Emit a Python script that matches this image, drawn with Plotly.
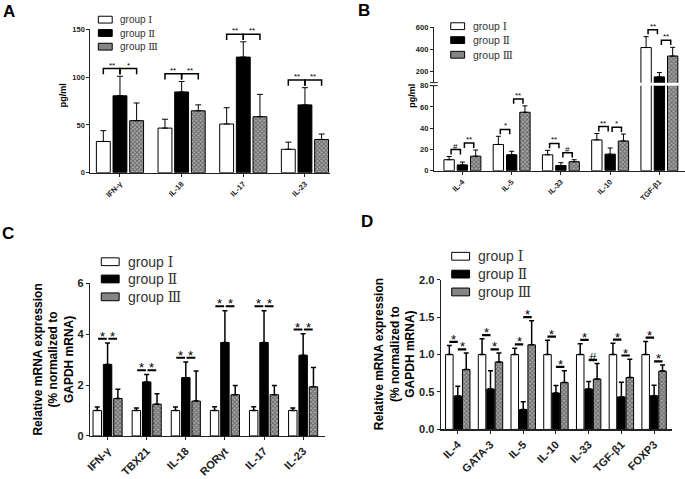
import plotly.graph_objects as go

W, H = 685, 479
FONT = "Liberation Sans"
groups = ["group Ⅰ", "group Ⅱ", "group Ⅲ"]

# ---------------- Panel A : serum cytokines (pg/ml) ----------------
catA = ["IFN-γ", "IL-18", "IL-17", "IL-23"]
A_I = [32.7, 46.7, 51.0, 24.5]
A_I_sd = [11.3, 9.3, 17.0, 7.5]
A_II = [80.5, 84.5, 121.0, 71.0]
A_II_sd = [20.5, 11.0, 16.0, 18.0]
A_III = [54.5, 64.8, 58.6, 34.8]
A_III_sd = [18.5, 6.2, 23.4, 5.7]
A_sig12 = ["**", "**", "**", "**"]
A_sig23 = ["*", "**", "**", "**"]
A_yticks = [0, 50, 100, 150]

# ---------------- Panel B : serum cytokines (pg/ml), broken axis ----------------
catB = ["IL-4", "IL-5", "IL-33", "IL-10", "TGF-β1"]
B_I = [10.4, 24.7, 15.0, 29.0, 418.0]
B_I_sd = [3.0, 7.7, 4.2, 6.0, 99.0]
B_II = [5.5, 15.0, 4.9, 15.6, 152.0]
B_II_sd = [2.7, 3.3, 2.7, 5.8, 39.0]
B_III = [13.7, 55.0, 8.5, 28.0, 341.0]
B_III_sd = [5.8, 6.0, 1.9, 6.5, 79.0]
B_sig12 = ["#", "*", "**", "**", "**"]
B_sig23 = ["**", "**", "#", "*", "**"]
B_yticks_low = [0, 20, 40, 60, 80]
B_yticks_high = [200, 400, 600]

# ---------------- Panel C : Th1/Th17 mRNA ----------------
catC = ["IFN-γ", "TBX21", "IL-18", "RORγt", "IL-17", "IL-23"]
C_I = [1.0, 1.0, 1.0, 1.0, 1.0, 1.0]
C_I_sd = [0.14, 0.10, 0.14, 0.15, 0.15, 0.10]
C_II = [2.81, 2.12, 2.29, 3.67, 3.67, 3.17]
C_II_sd = [0.84, 0.29, 0.61, 1.25, 1.25, 0.84]
C_III = [1.47, 1.25, 1.37, 1.62, 1.62, 1.93]
C_III_sd = [0.36, 0.41, 1.18, 0.36, 0.36, 0.76]
C_sig12 = ["*"] * 6
C_sig23 = ["*"] * 6
C_yticks = [0, 2, 4, 6]

# ---------------- Panel D : Th2/Treg mRNA ----------------
catD = ["IL-4", "GATA-3", "IL-5", "IL-10", "IL-33", "TGF-β1", "FOXP3"]
D_I = [1.0, 1.0, 1.0, 1.0, 1.0, 1.0, 1.0]
D_I_sd = [0.12, 0.21, 0.085, 0.19, 0.145, 0.15, 0.175]
D_II = [0.447, 0.54, 0.265, 0.485, 0.54, 0.434, 0.45]
D_II_sd = [0.13, 0.245, 0.105, 0.10, 0.10, 0.196, 0.14]
D_III = [0.80, 0.90, 1.13, 0.625, 0.673, 0.694, 0.78]
D_III_sd = [0.22, 0.12, 0.32, 0.16, 0.207, 0.243, 0.08]
D_sig12 = ["*"] * 7
D_sig23 = ["*", "*", "*", "*", "#", "*", "*"]
D_yticks = [0.0, 0.5, 1.0, 1.5, 2.0]

mrna_title = "Relative mRNA expression<br>(% normalized to<br>GAPDH mRNA)"

# ---------------- helpers ----------------
def xdom(a, b):
    return [a / W, b / W]

def ydom(top, bottom):
    return [1 - bottom / H, 1 - top / H]

STY = [
    dict(color="white", line=dict(color="black", width=1)),
    dict(color="black", line=dict(color="black", width=1)),
    dict(color="#909090", line=dict(color="black", width=1),
         pattern=dict(shape="x", fgcolor="#222222", bgcolor="#a8a8a8", size=3, solidity=0.5)),
]

fig = go.Figure()

def add_bars(xa, ya, means, sds, pitch, width, ethick, ewidth):
    for k in range(3):
        n = len(means[k])
        xs = [i + (k - 1) * pitch for i in range(n)]
        fig.add_trace(go.Bar(
            x=xs, y=means[k], width=width, name=groups[k], showlegend=False,
            marker=STY[k], xaxis=xa, yaxis=ya, hoverinfo="skip",
            error_y=dict(type="data", symmetric=False, array=sds[k], arrayminus=[0] * n,
                         color="black", thickness=ethick, width=ewidth),
        ))

annotations = []
shapes = []

def add_brackets(means, sds, sig12, sig23, pitch, inset, shared, axes_for,
                 fsize, yshift, lw):
    tops = [[m + s for m, s in zip(means[k], sds[k])] for k in range(3)]
    n = len(means[0])
    segs = {}
    for i in range(n):
        allmax = max(tops[k][i] for k in range(3))
        for (k1, k2), sig in (((0, 1), sig12[i]), ((1, 2), sig23[i])):
            t = allmax if shared else max(tops[k1][i], tops[k2][i])
            xa, ya, gap, leg = axes_for(t)
            y = t + gap
            x0 = i + (k1 - 1) * pitch + inset
            x1 = i + (k2 - 1) * pitch - inset
            sx, sy = segs.setdefault((xa, ya), ([], []))
            if leg > 0:
                sx += [x0, x0, x1, x1, None]
                sy += [y - leg, y, y, y - leg, None]
            else:
                sx += [x0, x1, None]
                sy += [y, y, None]
            annotations.append(dict(
                x=(x0 + x1) / 2, y=y, xref=xa, yref=ya, text=sig,
                showarrow=False, yanchor="bottom", yshift=yshift,
                font=dict(family=FONT, size=fsize, color="black")))
    for (xa, ya), (sx, sy) in segs.items():
        fig.add_trace(go.Scatter(x=sx, y=sy, mode="lines", xaxis=xa, yaxis=ya,
                                 line=dict(color="black", width=lw), showlegend=False,
                                 hoverinfo="skip"))

# ---------------- traces ----------------
pA, wA = 0.27, 0.225
add_bars("x", "y", [A_I, A_II, A_III], [A_I_sd, A_II_sd, A_III_sd], pA, wA, 1, 3)
add_brackets([A_I, A_II, A_III], [A_I_sd, A_II_sd, A_III_sd], A_sig12, A_sig23,
             pA, 0.0, True, lambda t: ("x", "y", 8, 6), 8, -3, 1.5)

pB, wB = 0.27, 0.21
B_low_max = B_yticks_low[-1]
for ya in ("y2", "y3"):
    add_bars("x2", ya, [B_I, B_II, B_III], [B_I_sd, B_II_sd, B_III_sd], pB, wB, 1, 2.5)
add_brackets([B_I, B_II, B_III], [B_I_sd, B_II_sd, B_III_sd], B_sig12, B_sig23,
             pB, 0.04, False,
             lambda t: ("x2", "y3", 63, 42) if t > B_low_max else ("x2", "y2", 6.5, 4.5),
             8, -3, 1.5)

pC, wC = 0.264, 0.216
add_bars("x3", "y4", [C_I, C_II, C_III], [C_I_sd, C_II_sd, C_III_sd], pC, wC, 1.5, 2.5)
add_brackets([C_I, C_II, C_III], [C_I_sd, C_II_sd, C_III_sd], C_sig12, C_sig23,
             pC, 0.02, True, lambda t: ("x3", "y4", 0.17, 0), 13, -7, 2)

pD, wD = 0.258, 0.23
add_bars("x4", "y5", [D_I, D_II, D_III], [D_I_sd, D_II_sd, D_III_sd], pD, wD, 1.5, 2.5)
add_brackets([D_I, D_II, D_III], [D_I_sd, D_II_sd, D_III_sd], D_sig12, D_sig23,
             pD, 0.0, False, lambda t: ("x4", "y5", 0.05, 0), 13, -7, 2.2)

# ---------------- axes ----------------
def xaxis_style(cats, rng, dom, anchor, fsize, lw):
    return dict(domain=dom, range=rng, anchor=anchor, tickmode="array",
                tickvals=list(range(len(cats))), ticktext=cats, tickangle=-45,
                showline=True, linecolor="#222", linewidth=lw, ticks="outside",
                ticklen=3, tickwidth=1, tickcolor="#222", showgrid=False, zeroline=False,
                tickfont=dict(family=FONT, size=fsize, color="#222", weight="bold"),
                fixedrange=True)

def yaxis_style(vals, rng, dom, anchor, fsize, lw, fmt=None):
    d = dict(domain=dom, range=rng, anchor=anchor, tickmode="array", tickvals=vals,
             showline=True, linecolor="#222", linewidth=lw, ticks="outside",
             ticklen=3, tickwidth=1, tickcolor="#222", showgrid=False, zeroline=False,
             tickfont=dict(family=FONT, size=fsize, color="#222", weight="bold"),
             fixedrange=True)
    if fmt:
        d["tickformat"] = fmt
    return d

fig.update_layout(
    xaxis=xaxis_style(catA, [-0.48, 3.4], xdom(86, 327), "y", 7.5, 1),
    yaxis=yaxis_style(A_yticks, [0, 150], ydom(24, 171), "x", 7.5, 1),
    xaxis2=xaxis_style(catB, [-0.58, 4.52], xdom(432, 685), "y2", 7.5, 1),
    yaxis2=yaxis_style(B_yticks_low, [0, 80], ydom(81.7, 169), "x2", 7.5, 1),
    yaxis3=yaxis_style(B_yticks_high, [100, 600], ydom(22, 78.6), "x2", 7.5, 1),
    xaxis3=xaxis_style(catC, [-0.44, 5.55], xdom(86, 322), "y4", 11, 1.5),
    yaxis4=yaxis_style(C_yticks, [0, 6], ydom(284.3, 441), "x3", 11, 1.5),
    xaxis4=xaxis_style(catD, [-0.51, 6.55], xdom(439.3, 672), "y5", 11, 1.5),
    yaxis5=yaxis_style(D_yticks, [0, 2], ydom(280.7, 434.3), "x4", 11, 1.5, ".1f"),
)

# axis break marks on panel B
for ypx in (78.6, 81.7):
    shapes.append(dict(type="line", xref="paper", yref="paper",
                       x0=428 / W, x1=436 / W, y0=1 - ypx / H, y1=1 - ypx / H,
                       line=dict(color="#222", width=1)))

# ---------------- legends (drawn) ----------------
fills = ["white", "black", "#858585"]

def legend_label(s):
    word, num = s.split(" ")
    return word + " <span style='font-family:DejaVu Serif'>" + num + "</span>"

def add_legend(x0, sw, sh, rows, tx, fsize):
    for k, yc in enumerate(rows):
        shapes.append(dict(type="rect", xref="paper", yref="paper",
                           x0=x0 / W, x1=(x0 + sw) / W,
                           y0=1 - (yc + sh / 2) / H, y1=1 - (yc - sh / 2) / H,
                           fillcolor=fills[k], line=dict(color="black", width=1)))
        annotations.append(dict(x=tx / W, y=1 - yc / H, xref="paper", yref="paper",
                                text=legend_label(groups[k]), showarrow=False,
                                xanchor="left", yanchor="middle",
                                font=dict(family=FONT, size=fsize, color="#333")))

add_legend(94, 14, 7, [14, 27.7, 41.7], 114, 10)
add_legend(449, 14, 7, [20.7, 35, 50], 469, 10.5)
add_legend(97, 18, 8, [262.3, 280, 298.3], 122, 14)
add_legend(450, 18, 8, [256.7, 275, 293.3], 474, 14)

# ---------------- titles / labels ----------------
def txt(x, y, s, size, angle=0, weight="bold"):
    annotations.append(dict(x=x / W, y=1 - y / H, xref="paper", yref="paper", text=s,
                            showarrow=False, textangle=angle, xanchor="center",
                            yanchor="middle",
                            font=dict(family=FONT, size=size, color="black", weight=weight)))

txt(58, 92, "pg/ml", 9, -90)
txt(410, 92, "pg/ml", 9, -90)
txt(49, 363, mrna_title, 12, -90)
txt(392, 357, mrna_title, 12, -90)
txt(4, 6, "A", 17)
txt(362, 5, "B", 17)
txt(3, 233, "C", 17)
txt(365, 221, "D", 17)

fig.update_layout(
    width=W, height=H, autosize=False,
    margin=dict(l=0, r=0, t=0, b=0),
    paper_bgcolor="white", plot_bgcolor="white",
    barmode="overlay", showlegend=False,
    annotations=annotations, shapes=shapes,
    font=dict(family=FONT, color="#222"),
)

fig.write_html("out.html", config={"displayModeBar": False, "staticPlot": True},
               post_script="document.body.style.margin='0';document.body.style.padding='0';")
